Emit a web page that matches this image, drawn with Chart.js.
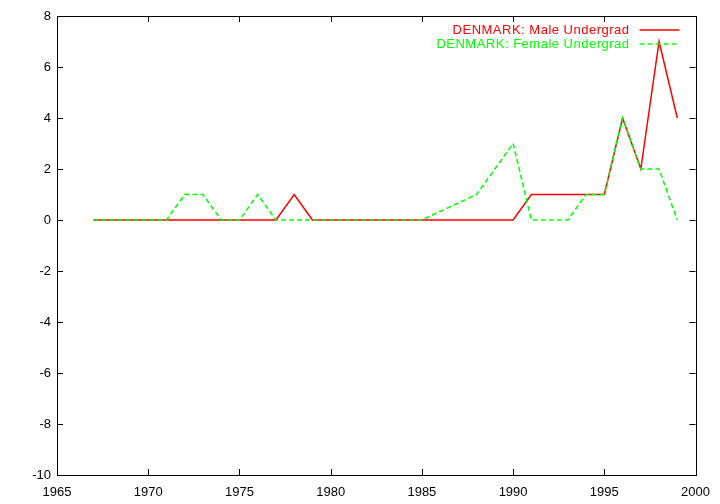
<!DOCTYPE html>
<html>
<head>
<meta charset="utf-8">
<script src="https://cdn.jsdelivr.net/npm/chart.js@4"></script>
<style>
  html, body { margin: 0; padding: 0; background: #fff; }
  #wrap { width: 720px; height: 504px; }
</style>
</head>
<body>
<div id="wrap"><canvas id="chart" width="720" height="504"></canvas></div>
<script>
// years on the x axis
const years = [1967, 1968, 1969, 1970, 1971, 1972, 1973, 1974, 1975, 1976, 1977, 1978, 1979,
               1980, 1981, 1982, 1983, 1984, 1985, 1986, 1987, 1988, 1989, 1990, 1991,
               1992, 1993, 1994, 1995, 1996, 1997, 1998, 1999];
const maleUndergrad = [0, 0, 0, 0, 0, 0, 0, 0, 0, 0, 0, 1, 0,
                       0, 0, 0, 0, 0, 0, 0, 0, 0, 0, 0, 1,
                       1, 1, 1, 1, 4, 2, 7, 4];
// null = no value for that year (line just joins neighbours)
const femaleUndergrad = [0, 0, 0, 0, 0, 1, 1, 0, 0, 1, 0, 0, 0,
                         0, 0, 0, 0, 0, 0, null, null, 1, null, 3, 0,
                         0, 0, 1, 1, 4, 2, 2, 0];
const seriesLabels = ['DENMARK: Male Undergrad', 'DENMARK: Female Undergrad'];

const FONT = '"Liberation Sans", Arial, sans-serif';

function toPoints(vals) {
    return years.map((y, i) => ({ x: y, y: vals[i] }));
}

// gnuplot style: ticks pointing inwards on all four sides
const innerTicks = {
    id: 'innerTicks',
    afterDraw(chart) {
        const { ctx, chartArea: a, scales } = chart;
        const len = 6;
        ctx.save();
        ctx.strokeStyle = '#000';
        ctx.lineWidth = 1;
        ctx.beginPath();
        scales.x.ticks.forEach((t, i) => {
            const px = Math.round(scales.x.getPixelForTick(i)) + 0.5;
            ctx.moveTo(px, a.bottom); ctx.lineTo(px, a.bottom - len);
            ctx.moveTo(px, a.top); ctx.lineTo(px, a.top + len);
        });
        scales.y.ticks.forEach((t, i) => {
            const py = Math.round(scales.y.getPixelForTick(i)) + 0.5;
            ctx.moveTo(a.left, py); ctx.lineTo(a.left + len, py);
            ctx.moveTo(a.right, py); ctx.lineTo(a.right - len, py);
        });
        ctx.stroke();
        ctx.strokeRect(Math.round(a.left) + 0.5, Math.round(a.top) + 0.5,
                       Math.round(a.right - a.left), Math.round(a.bottom - a.top));
        ctx.restore();
    }
};

// key in the top right corner: text right aligned, line sample after it
const insideKey = {
    id: 'insideKey',
    afterDraw(chart) {
        const { ctx, chartArea: a } = chart;
        ctx.save();
        ctx.font = '13px ' + FONT;
        ctx.letterSpacing = '0.5px';
        ctx.textAlign = 'right';
        ctx.textBaseline = 'middle';
        chart.data.datasets.forEach((ds, i) => {
            const y = a.top + 14 + i * 14;
            const textRight = a.right - 66;
            ctx.fillStyle = ds.borderColor;
            ctx.fillText(ds.label, textRight, y);
            ctx.strokeStyle = ds.borderColor;
            ctx.lineWidth = ds.borderWidth;
            ctx.setLineDash(ds.borderDash || []);
            ctx.beginPath();
            ctx.moveTo(textRight + 10, y);
            ctx.lineTo(textRight + 50, y);
            ctx.stroke();
        });
        ctx.restore();
    }
};

new Chart(document.getElementById('chart'), {
    type: 'line',
    data: {
        datasets: [
            {
                label: seriesLabels[0],
                data: toPoints(maleUndergrad),
                borderColor: '#ff0000',
                borderWidth: 1.5,
                pointRadius: 0,
                tension: 0,
                order: 1
            },
            {
                label: seriesLabels[1],
                data: toPoints(femaleUndergrad),
                borderColor: '#00ff00',
                borderWidth: 1.5,
                borderDash: [5, 3],
                pointRadius: 0,
                tension: 0,
                spanGaps: true,
                order: 0
            }
        ]
    },
    options: {
        responsive: false,
        animation: false,
        layout: { padding: { top: 16, right: 24, left: 0, bottom: 0 } },
        plugins: {
            legend: { display: false },
            tooltip: { enabled: false }
        },
        scales: {
            x: {
                type: 'linear',
                min: 1965,
                max: 2000,
                grid: { drawOnChartArea: false, drawTicks: false },
                border: { display: false },
                ticks: {
                    stepSize: 5,
                    padding: 10,
                    color: '#000',
                    font: { family: FONT, size: 13 },
                    maxRotation: 0,
                    callback: v => String(v)
                },
                afterFit: s => { s.height = 29; }
            },
            y: {
                min: -10,
                max: 8,
                grid: { drawOnChartArea: false, drawTicks: false },
                border: { display: false },
                ticks: {
                    stepSize: 2,
                    padding: 6,
                    color: '#000',
                    font: { family: FONT, size: 13 }
                },
                afterFit: s => { s.width = 57; }
            }
        }
    },
    plugins: [innerTicks, insideKey]
});
</script>
</body>
</html>
